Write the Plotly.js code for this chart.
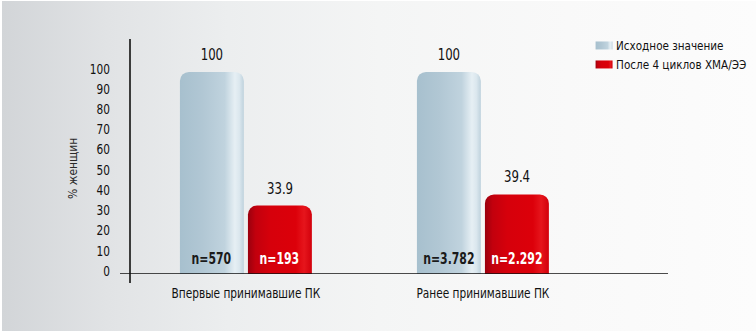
<!DOCTYPE html>
<html>
<head>
<meta charset="utf-8">
<script src="https://cdn.plot.ly/plotly-3.0.1.min.js"></script>
<style>
  html, body { margin:0; padding:0; background:#ffffff; }
  #wrap { position:relative; width:756px; height:333px; overflow:hidden; }
  #bg { position:absolute; left:2px; top:1px; width:754px; height:330px;
        background: linear-gradient(to right, #d2d5d8 0%, #e1e3e5 14%, #eceeef 30%, #f4f5f5 50%, #f9f9f9 75%, #fcfcfc 100%); }
  #chart { position:absolute; left:0; top:0; width:756px; height:333px; }
</style>
</head>
<body>
<div id="wrap"><div id="bg"></div><div id="chart"></div></div>
<script>
// ---- data ----
const categories = ['Впервые принимавшие ПК', 'Ранее принимавшие ПК'];
const seriesNames = ['Исходное значение', 'После 4 циклов ХМА/ЭЭ'];
const baselineValues = [100, 100];
const after4Values = [33.9, 39.4];
const baselineN = ['n=570', 'n=3.782'];
const after4N = ['n=193', 'n=2.292'];
const yTickVals = [0, 10, 20, 30, 40, 50, 60, 70, 80, 90, 100];
const yTitle = '% женщин';

// ---- style ----
const FONT = '"Liberation Sans Narrow", "DejaVu Sans Condensed", "Arial Narrow", sans-serif';
const BLUE = '#b6cbd7';
const RED = '#d4000b';
const BARGAP = 0.426;
const BARGROUPGAP = 0.06;

const traces = [
  { type:'bar', name: seriesNames[0], x: categories, y: baselineValues,
    marker:{ color: BLUE, line:{width:0} }, hoverinfo:'none' },
  { type:'bar', name: seriesNames[1], x: categories, y: after4Values,
    marker:{ color: RED, line:{width:0} }, hoverinfo:'none' }
];

const slot = (1 - BARGAP) / 2;
const annotations = [];
const series = [
  { vals: baselineValues, ns: baselineN, off: -slot/2, nColor:'#1a1a1a' },
  { vals: after4Values, ns: after4N, off: slot/2, nColor:'#ffffff' }
];
series.forEach(s => {
  s.vals.forEach((v, i) => {
    annotations.push({ x: i + s.off, y: v, xref:'x', yref:'y', text: String(v),
      showarrow:false, yanchor:'middle', yshift:17,
      font:{ family: FONT, size:15, color:'#111111' } });
    annotations.push({ x: i + s.off, y: 0, xref:'x', yref:'y', text: '<b>' + s.ns[i] + '</b>',
      showarrow:false, yanchor:'middle', yshift:15,
      font:{ family: FONT, size:15.5, color: s.nColor } });
  });
});
annotations.push({ xref:'paper', yref:'paper', x: -57/538, y: 105/235, text: yTitle,
  textangle:-90, showarrow:false, xanchor:'center', yanchor:'middle',
  font:{ family: FONT, size:12, color:'#2a2a2a' } });

const layout = {
  width:756, height:333,
  margin:{ l:130, r:88, t:39, b:59, pad:0, autoexpand:false },
  paper_bgcolor:'rgba(0,0,0,0)', plot_bgcolor:'rgba(0,0,0,0)',
  barmode:'group', bargap: BARGAP, bargroupgap: BARGROUPGAP, barcornerradius: 9,
  font:{ family: FONT, color:'#222222' },
  showlegend:true,
  legend:{ xref:'container', yref:'container', x: 0.762, y: 0.907, xanchor:'left', yanchor:'top',
    bgcolor:'rgba(0,0,0,0)',
    font:{ family: FONT, size:12.2, color:'#111111' }, itemwidth:30, traceorder:'normal' },
  xaxis:{ type:'category', range:[-0.489, 1.781], showline:false, showgrid:false, zeroline:false,
    ticks:'', ticklabelstandoff:9, tickfont:{ family: FONT, size:13.5, color:'#111111' }, fixedrange:true },
  yaxis:{ range:[0, 116.3], tickvals: yTickVals, showline:false, showgrid:false, zeroline:false,
    ticks:'', ticklabelstandoff:19, ticklabelshift:-3,
    tickfont:{ family: FONT, size:13.5, color:'#111111' }, fixedrange:true },
  shapes:[
    { type:'line', xref:'paper', yref:'paper', x0:0, x1:0, y0:-9/235, y1:1,
      line:{ color:'#111111', width:1.6 } },
    { type:'line', xref:'paper', yref:'y', x0:-10/538, x1:1, y0:0, y1:0,
      line:{ color:'#111111', width:1.6 } }
  ],
  annotations: annotations
};

Plotly.newPlot('chart', traces, layout, { displayModeBar:false, staticPlot:true }).then(gd => {
  const NS = 'http://www.w3.org/2000/svg';
  const defs = gd.querySelector('svg.main-svg defs');
  function grad(id, stops) {
    const g = document.createElementNS(NS, 'linearGradient');
    g.setAttribute('id', id);
    g.setAttribute('x1','0'); g.setAttribute('y1','0');
    g.setAttribute('x2','1'); g.setAttribute('y2','0');
    stops.forEach(([o, c]) => {
      const s = document.createElementNS(NS, 'stop');
      s.setAttribute('offset', o); s.setAttribute('stop-color', c);
      g.appendChild(s);
    });
    defs.appendChild(g);
  }
  grad('gBlue', [['0','#a7c0ce'],['0.35','#b1c7d4'],['0.7','#c0d3de'],['0.86','#e6eff4'],['0.93','#dbe7ee'],['1','#bfd2dd']]);
  grad('gRed', [['0','#9a000e'],['0.12','#c2000d'],['0.35','#d6000b'],['0.75','#dc000a'],['0.88','#e6151c'],['1','#d2000b']]);
  const ids = ['gBlue','gRed'];
  gd.querySelectorAll('.barlayer .trace').forEach((tr, t) => {
    tr.querySelectorAll('.point path').forEach(p => { p.style.fill = 'url(#' + ids[t] + ')'; });
  });
  // legend swatches: wide flat rectangles like the original
  gd.querySelectorAll('.legend .traces').forEach((tr, t) => {
    tr.querySelectorAll('.legendpoints path').forEach(p => {
      p.setAttribute('d', 'M16.5,4H-0.5V-4H16.5Z');
      p.style.fill = 'url(#' + ids[t] + ')';
      p.style.stroke = 'none';
    });
  });
  // condense text horizontally to mimic the narrow typeface of the original
  const nSet = new Set(baselineN.concat(after4N));
  const legSet = new Set(seriesNames);
  gd.querySelectorAll('text').forEach(el => {
    const txt = el.textContent;
    if (!txt || txt === yTitle) return;
    const k = nSet.has(txt) ? 0.78 : (legSet.has(txt) ? 0.95 : 0.87);
    const len = el.getComputedTextLength();
    if (len > 0) {
      el.setAttribute('textLength', (len * k).toFixed(2));
      el.setAttribute('lengthAdjust', 'spacingAndGlyphs');
    }
  });
});
</script>
</body>
</html>
